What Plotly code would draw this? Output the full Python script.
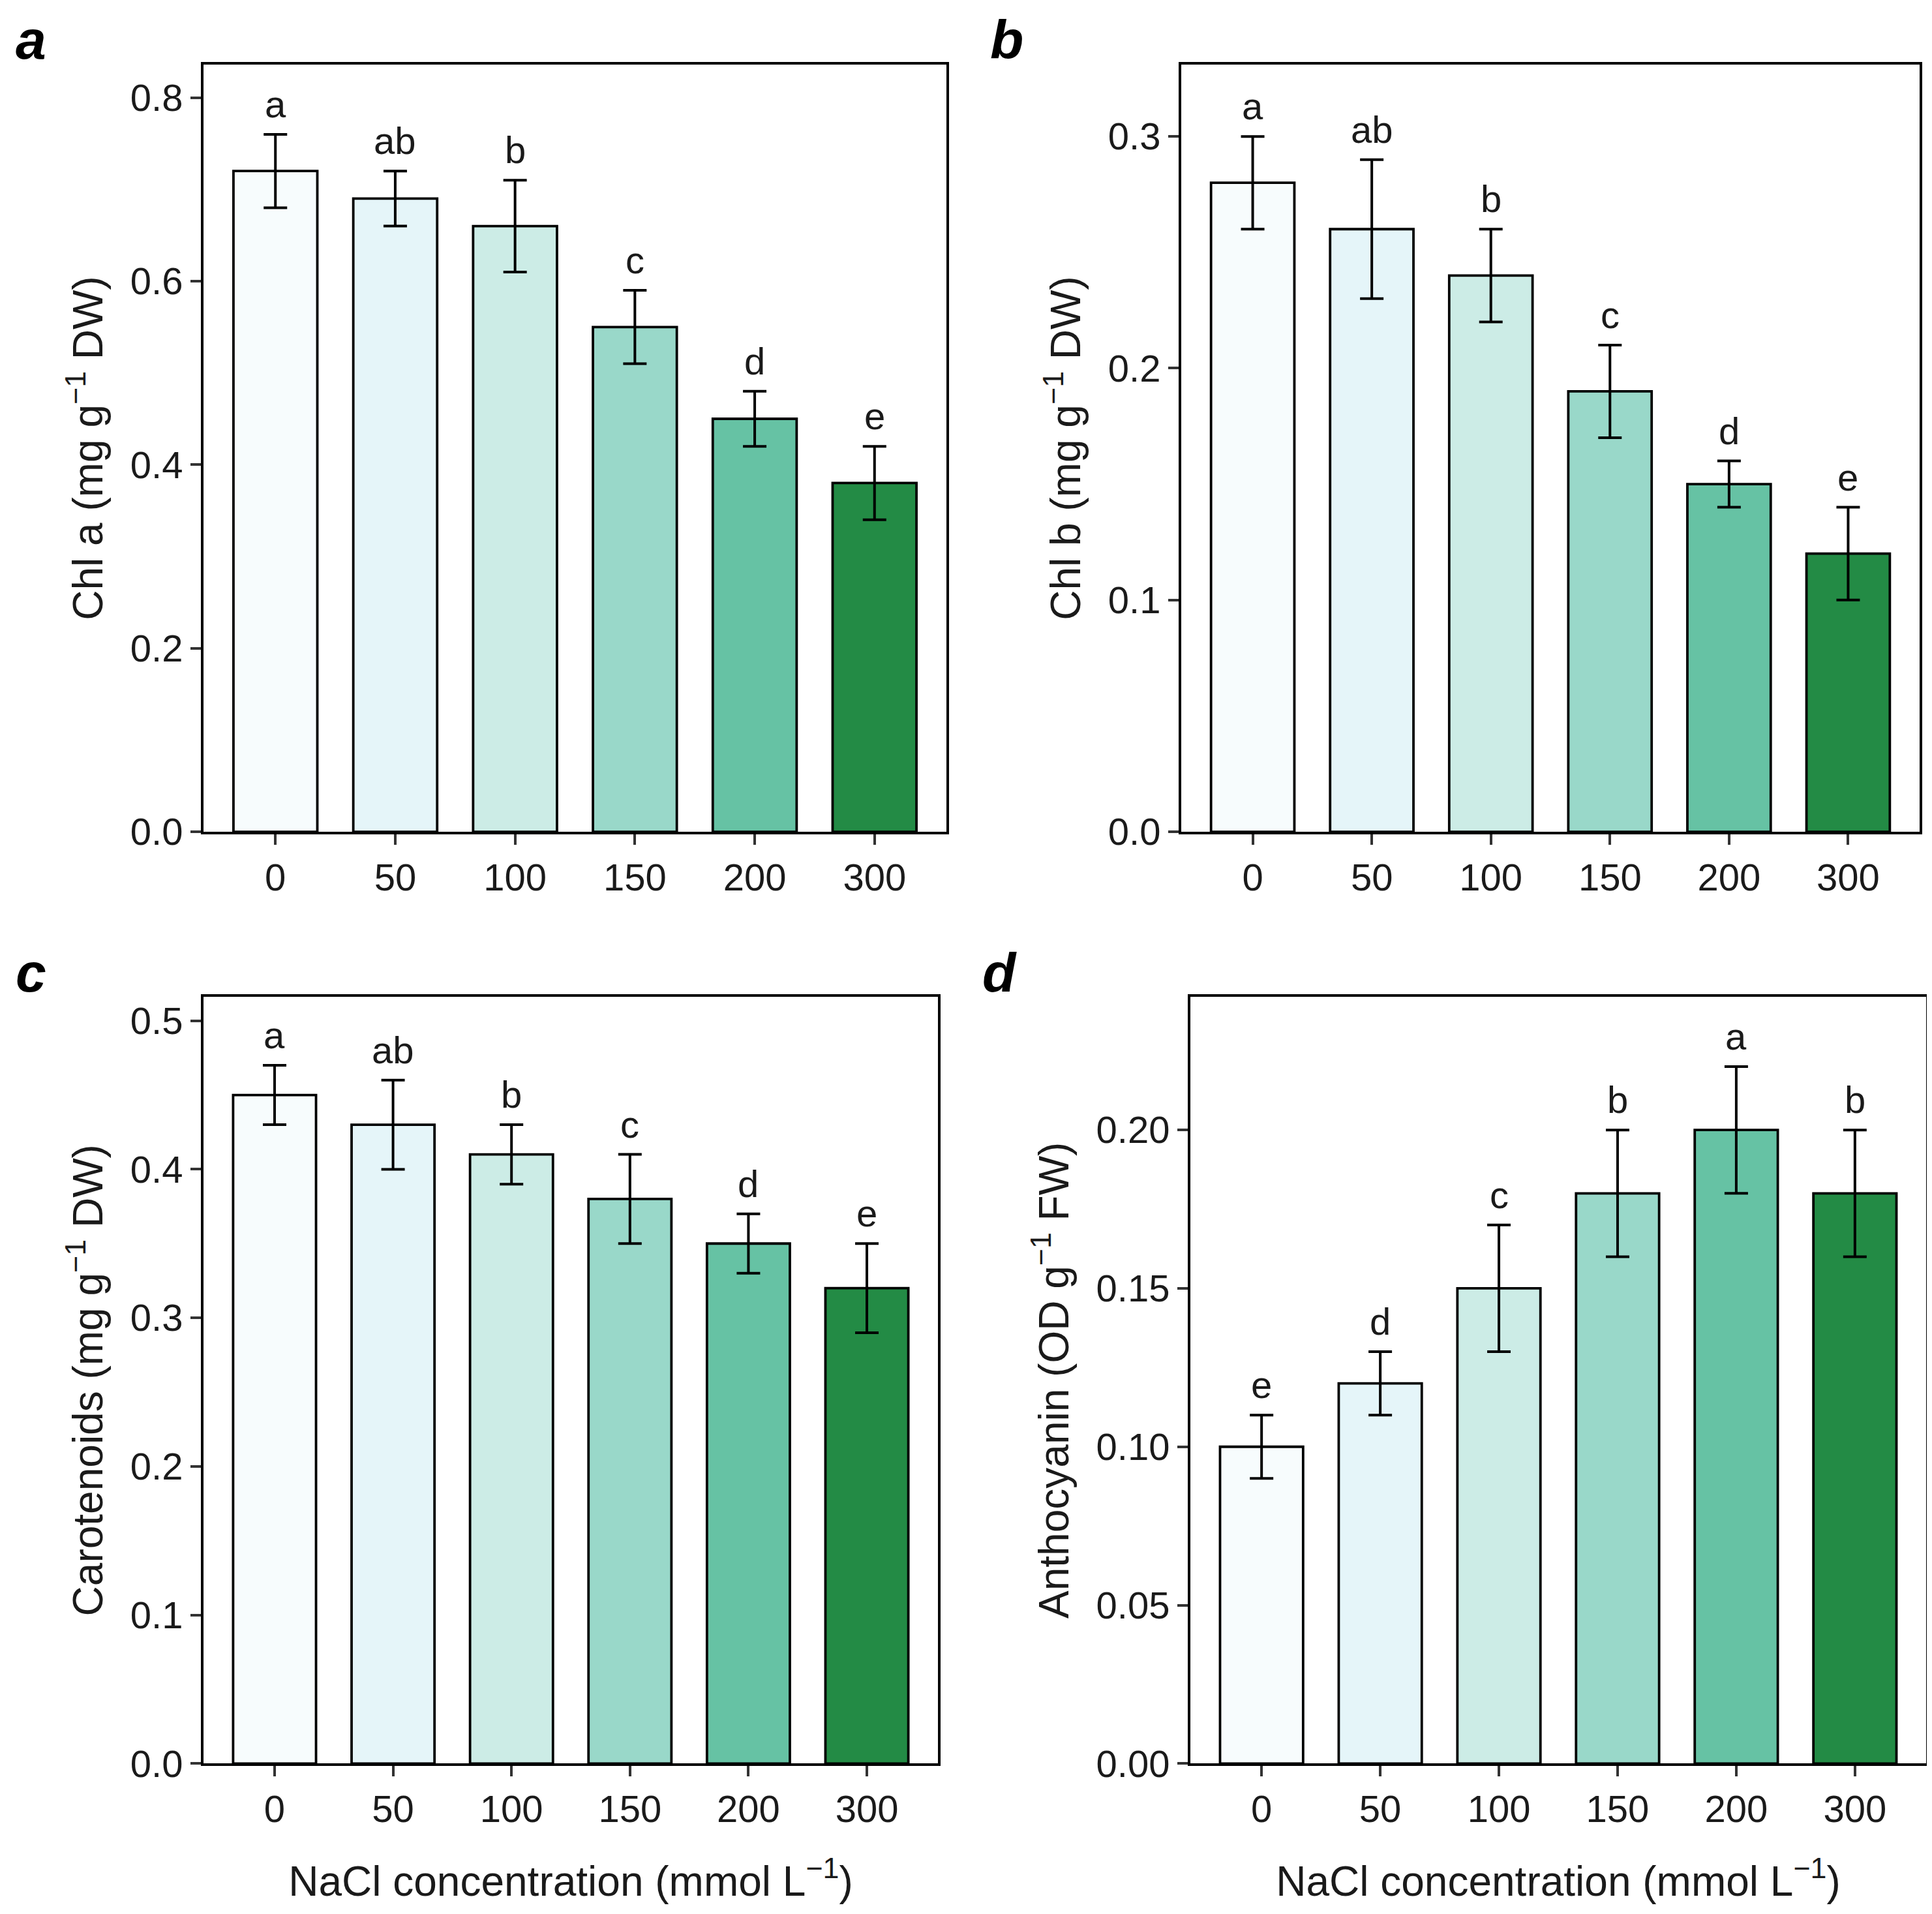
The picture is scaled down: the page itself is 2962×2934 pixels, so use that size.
import plotly.graph_objects as go

W, H = 2962, 2934

nacl = ["0", "50", "100", "150", "200", "300"]
bar_colors = ["#F7FCFD", "#E5F5F9", "#CCECE6", "#99D8C9", "#66C2A4", "#238B45"]

chla_mean = [0.72, 0.69, 0.66, 0.55, 0.45, 0.38]
chla_err = [0.04, 0.03, 0.05, 0.04, 0.03, 0.04]
chla_letters = ["a", "ab", "b", "c", "d", "e"]

chlb_mean = [0.28, 0.26, 0.24, 0.19, 0.15, 0.12]
chlb_err = [0.02, 0.03, 0.02, 0.02, 0.01, 0.02]
chlb_letters = ["a", "ab", "b", "c", "d", "e"]

car_mean = [0.45, 0.43, 0.41, 0.38, 0.35, 0.32]
car_err = [0.02, 0.03, 0.02, 0.03, 0.02, 0.03]
car_letters = ["a", "ab", "b", "c", "d", "e"]

ant_mean = [0.10, 0.12, 0.15, 0.18, 0.20, 0.18]
ant_err = [0.01, 0.01, 0.02, 0.02, 0.02, 0.02]
ant_letters = ["e", "d", "c", "b", "a", "b"]

FONT = "Liberation Sans, Arial, sans-serif"
TICK_SIZE = 58
TITLE_SIZE = 64
xtitle = "NaCl concentration (mmol L<sup>−1</sup>)"

# panel: (label, means, errs, letters, ytitle, ymax, tickvals, tickfmt, box px (x0, x1, y0, y1), label px, x title?)
panels = [
    ("a", chla_mean, chla_err, chla_letters, "Chl a (mg g<sup>−1</sup> DW)",
     0.836, [0, 0.2, 0.4, 0.6, 0.8], ".1f", (304, 1443, 92, 1281), (14, 4), False),
    ("b", chlb_mean, chlb_err, chlb_letters, "Chl b (mg g<sup>−1</sup> DW)",
     0.331, [0, 0.1, 0.2, 0.3], ".1f", (1803, 2935, 92, 1281), (1508, 4), False),
    ("c", car_mean, car_err, car_letters, "Carotenoids (mg g<sup>−1</sup> DW)",
     0.516, [0, 0.1, 0.2, 0.3, 0.4, 0.5], ".1f", (304, 1430, 1537, 2725), (14, 1450), True),
    ("d", ant_mean, ant_err, ant_letters, "Anthocyanin (OD g<sup>−1</sup> FW)",
     0.242, [0, 0.05, 0.10, 0.15, 0.20], ".2f", (1817, 2945, 1537, 2725), (1496, 1450), True),
]

fig = go.Figure()
annotations = []
layout_axes = {}

for i, (lab, means, errs, letters, ytitle, ymax, tvals, tfmt, box, lpos, show_xt) in enumerate(panels):
    n = "" if i == 0 else str(i + 1)
    x0, x1, y0, y1 = box
    fig.add_trace(go.Bar(
        x=nacl, y=means,
        xaxis="x" + n, yaxis="y" + n,
        marker=dict(color=bar_colors, line=dict(color="black", width=3.8)),
        error_y=dict(type="data", array=errs, color="black", thickness=4, width=18),
        showlegend=False,
    ))
    # significance letters above the error bars (category index positions)
    for k, (m, e, t) in enumerate(zip(means, errs, letters)):
        annotations.append(dict(
            x=k, y=m + e, xref="x" + n, yref="y" + n, text=t, showarrow=False,
            yanchor="bottom", yshift=12,
            font=dict(family=FONT, size=TICK_SIZE, color="#1a1a1a"),
        ))
    annotations.append(dict(
        x=lpos[0] / W, y=1 - lpos[1] / H, xref="paper", yref="paper",
        text="<b><i>%s</i></b>" % lab, showarrow=False,
        xanchor="left", yanchor="top",
        font=dict(family=FONT, size=84, color="black"),
    ))
    axis_common = dict(
        showline=True, mirror=True, linecolor="black", linewidth=3.8,
        showgrid=False, zeroline=False,
        ticks="outside", ticklen=16, tickwidth=3.5, tickcolor="#333333",
        tickfont=dict(family=FONT, size=TICK_SIZE, color="#1a1a1a"),
    )
    xaxis = dict(
        axis_common, domain=[x0 / W, x1 / W], anchor="y" + n,
        type="category", range=[-0.6, 5.6],
    )
    if show_xt:
        xaxis["title"] = dict(text=xtitle, standoff=58,
                              font=dict(family=FONT, size=TITLE_SIZE, color="#1a1a1a"))
    layout_axes["xaxis" + n] = xaxis
    layout_axes["yaxis" + n] = dict(
        axis_common, domain=[1 - y1 / H, 1 - y0 / H], anchor="x" + n,
        range=[0, ymax], tickvals=tvals, tickformat=tfmt,
        title=dict(text=ytitle, standoff=22,
                   font=dict(family=FONT, size=TITLE_SIZE, color="#1a1a1a")),
    )

fig.update_layout(
    width=W, height=H,
    margin=dict(l=0, r=0, t=0, b=0),
    paper_bgcolor="white", plot_bgcolor="white",
    bargap=0.3,
    annotations=annotations,
    **layout_axes,
)

fig.write_html("out.html")
